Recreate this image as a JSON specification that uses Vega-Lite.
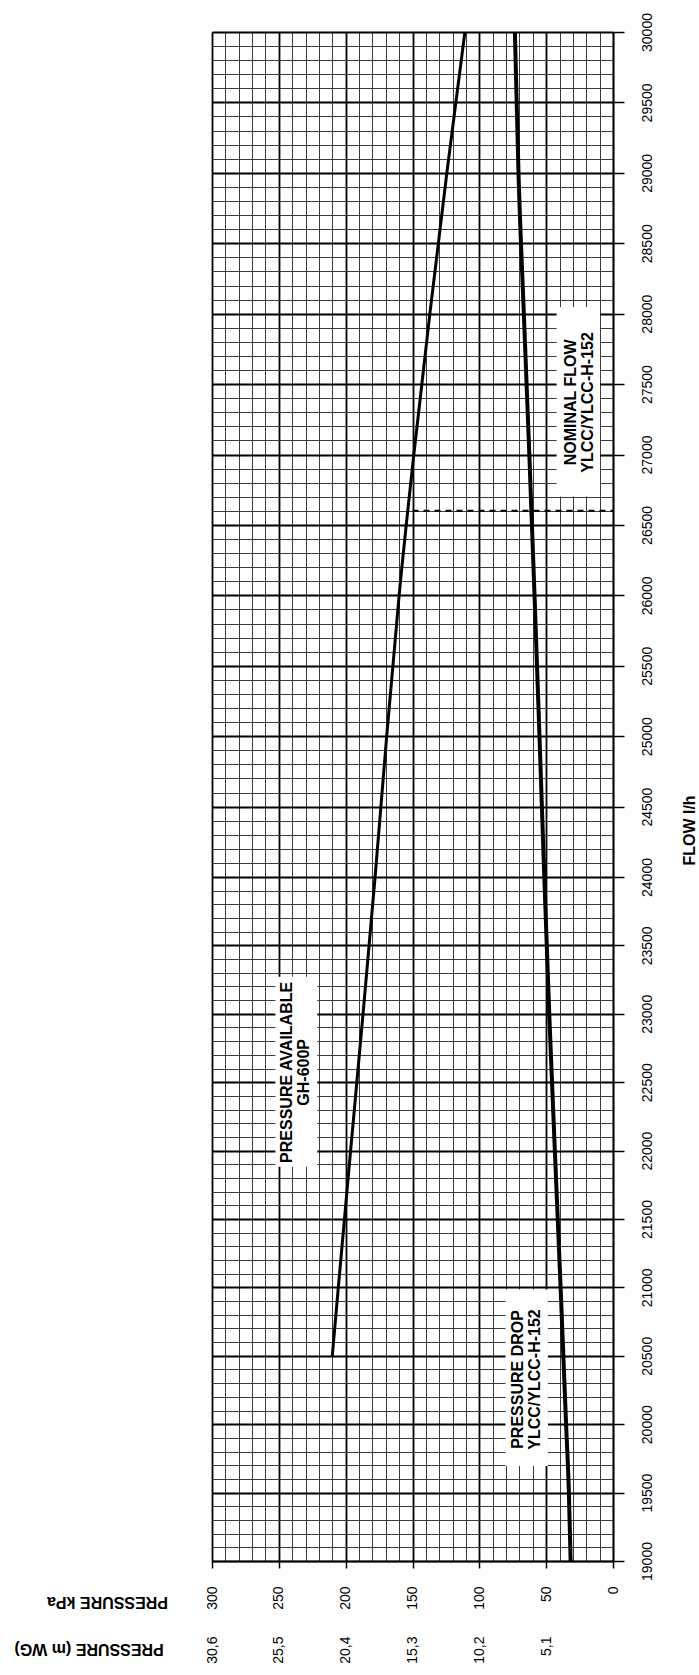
{
  "$schema": "https://vega.github.io/schema/vega-lite/v6.json",
  "width": 401,
  "height": 1529,
  "autosize": {"type": "none"},
  "padding": {"left": 212, "top": 32, "right": 86, "bottom": 114},
  "background": "white",
  "config": {
    "view": {"stroke": null},
    "font": "Liberation Sans",
    "axis": {"labelColor": "black", "titleColor": "black", "domainColor": "black", "tickColor": "black", "labelFont": "Liberation Sans", "titleFont": "Liberation Sans"}
  },
  "datasets": {
    "available": [
      {"flow": 20500, "kpa": 210},
      {"flow": 21000, "kpa": 205.5},
      {"flow": 22000, "kpa": 196.3},
      {"flow": 23000, "kpa": 187},
      {"flow": 24000, "kpa": 178},
      {"flow": 25000, "kpa": 169.3},
      {"flow": 26000, "kpa": 160},
      {"flow": 27000, "kpa": 149},
      {"flow": 28000, "kpa": 137},
      {"flow": 29000, "kpa": 124.3},
      {"flow": 30000, "kpa": 110.8}
    ],
    "drop": [
      {"flow": 19000, "kpa": 31.7},
      {"flow": 19500, "kpa": 33},
      {"flow": 20000, "kpa": 35.1},
      {"flow": 21000, "kpa": 39.2},
      {"flow": 22000, "kpa": 43.5},
      {"flow": 23000, "kpa": 47.7},
      {"flow": 24000, "kpa": 51.4},
      {"flow": 25000, "kpa": 55},
      {"flow": 26000, "kpa": 58.7},
      {"flow": 27000, "kpa": 62.6},
      {"flow": 28000, "kpa": 66.7},
      {"flow": 29000, "kpa": 70.7},
      {"flow": 30000, "kpa": 73.4}
    ],
    "boxes": [
      {"kpa": 252.6, "kpa2": 221.2, "flow": 23270, "flow2": 21882},
      {"kpa": 80.4, "kpa2": 48.7, "flow": 20984, "flow2": 19694},
      {"kpa": 42.2, "kpa2": 9.7, "flow": 28047, "flow2": 26701}
    ],
    "labels": [
      {"kpa": 244, "flow": 22572, "label": "PRESSURE AVAILABLE\nGH-600P"},
      {"kpa": 70.8, "flow": 20327, "label": "PRESSURE DROP\nYLCC/YLCC-H-152"},
      {"kpa": 31.3, "flow": 27370, "label": "NOMINAL FLOW\nYLCC/YLCC-H-152"}
    ],
    "nominal": [
      {"flow": 26600, "kpa": 150, "kpa2": 0}
    ]
  },
  "layer": [
    {
      "encoding": {
        "x": {
          "field": "kpa", "type": "quantitative",
          "scale": {"domain": [0, 300], "reverse": true, "nice": false, "zero": false},
          "axis": {
            "orient": "bottom",
            "values": [0,10,20,30,40,50,60,70,80,90,100,110,120,130,140,150,160,170,180,190,200,210,220,230,240,250,260,270,280,290,300],
            "format": "d",
            "labelExpr": "datum.value % 50 === 0 ? datum.label : ''",
            "labelAngle": 270,
            "labelAlign": "right",
            "labelBaseline": "middle",
            "labelPadding": 18,
            "labelFontSize": 14,
            "labelOverlap": false,
            "labelFlush": false,
            "tickSize": 7,
            "tickWidth": 1.5,
            "tickOpacity": {"condition": {"test": "datum.value % 50 === 0", "value": 1}, "value": 0},
            "domainWidth": 1.5,
            "grid": true,
            "gridColor": {"condition": {"test": "datum.value % 50 === 0", "value": "#000000"}, "value": "#3a3a3a"},
            "gridWidth": {"condition": {"test": "datum.value % 50 === 0", "value": 1.8}, "value": 1},
            "gridOpacity": 1,
            "title": "PRESSURE kPa",
            "titleAngle": 180,
            "titleX": -105,
            "titleY": 40.5,
            "titleAlign": "center",
            "titleBaseline": "middle",
            "titleFontSize": 16,
            "titleFontWeight": "bold"
          }
        },
        "y": {
          "field": "flow", "type": "quantitative",
          "scale": {"domain": [19000, 24000, 30000], "range": [1529, 845, 0], "nice": false, "zero": false},
          "axis": {
            "orient": "right",
            "values": [19000,19100,19200,19300,19400,19500,19600,19700,19800,19900,20000,20100,20200,20300,20400,20500,20600,20700,20800,20900,21000,21100,21200,21300,21400,21500,21600,21700,21800,21900,22000,22100,22200,22300,22400,22500,22600,22700,22800,22900,23000,23100,23200,23300,23400,23500,23600,23700,23800,23900,24000,24100,24200,24300,24400,24500,24600,24700,24800,24900,25000,25100,25200,25300,25400,25500,25600,25700,25800,25900,26000,26100,26200,26300,26400,26500,26600,26700,26800,26900,27000,27100,27200,27300,27400,27500,27600,27700,27800,27900,28000,28100,28200,28300,28400,28500,28600,28700,28800,28900,29000,29100,29200,29300,29400,29500,29600,29700,29800,29900,30000],
            "format": "d",
            "labelExpr": "datum.value % 500 === 0 ? datum.label : ''",
            "labelAngle": 270,
            "labelAlign": "center",
            "labelBaseline": "top",
            "labelPadding": 16,
            "labelFontSize": 14,
            "labelOverlap": false,
            "labelFlush": false,
            "tickSize": 11,
            "tickWidth": 1.5,
            "tickOpacity": {"condition": {"test": "datum.value % 500 === 0", "value": 1}, "value": 0},
            "domainWidth": 1.5,
            "grid": true,
            "gridColor": {"condition": {"test": "datum.value % 500 === 0", "value": "#000000"}, "value": "#3a3a3a"},
            "gridWidth": {"condition": {"test": "datum.value % 500 === 0", "value": 1.8}, "value": 1},
            "gridOpacity": 1,
            "title": "FLOW l/h",
            "titleAngle": 270,
            "titleX": 76,
            "titleY": 798,
            "titleAlign": "center",
            "titleBaseline": "middle",
            "titleFontSize": 16,
            "titleFontWeight": "bold"
          }
        }
      },
      "layer": [
        {
          "data": {"name": "boxes"},
          "mark": {"type": "rect", "fill": "white", "stroke": null},
          "encoding": {
            "x2": {"field": "kpa2"},
            "y2": {"field": "flow2"}
          }
        },
        {
          "data": {"name": "available"},
          "mark": {"type": "line", "color": "black", "strokeWidth": 3, "interpolate": "monotone"}
        },
        {
          "data": {"name": "drop"},
          "mark": {"type": "line", "color": "black", "strokeWidth": 4, "interpolate": "monotone"}
        },
        {
          "data": {"name": "nominal"},
          "mark": {"type": "rule", "color": "black", "strokeWidth": 2, "strokeDash": [6, 5]},
          "encoding": {
            "x2": {"field": "kpa2"}
          }
        },
        {
          "data": {"name": "labels"},
          "mark": {"type": "text", "angle": 270, "align": "center", "baseline": "middle", "lineBreak": "\n", "lineHeight": 17, "font": "Liberation Sans", "fontSize": 16, "fontWeight": "bold", "color": "black"},
          "encoding": {
            "text": {"field": "label", "type": "nominal"}
          }
        }
      ]
    },
    {
      "data": {"name": "drop"},
      "mark": {"type": "point", "opacity": 0},
      "encoding": {
        "x": {
          "field": "kpa", "type": "quantitative",
          "scale": {"domain": [0, 300], "reverse": true, "nice": false, "zero": false},
          "axis": {
            "orient": "bottom",
            "values": [0, 50, 100, 150, 200, 250, 300],
            "labelExpr": "datum.value === 0 ? '' : replace(format(datum.value / 9.80665, '.1f'), '.', ',')",
            "labelAngle": 270,
            "labelAlign": "right",
            "labelBaseline": "middle",
            "labelPadding": 75,
            "labelFontSize": 14,
            "labelOverlap": false,
            "labelFlush": false,
            "ticks": false,
            "tickSize": 0,
            "domain": false,
            "grid": false,
            "title": "PRESSURE (m WG)",
            "titleAngle": 180,
            "titleX": -123.4,
            "titleY": 87,
            "titleAlign": "center",
            "titleBaseline": "middle",
            "titleFontSize": 16,
            "titleFontWeight": "bold"
          }
        }
      }
    }
  ],
  "resolve": {"scale": {"x": "independent"}, "axis": {"x": "independent"}}
}
